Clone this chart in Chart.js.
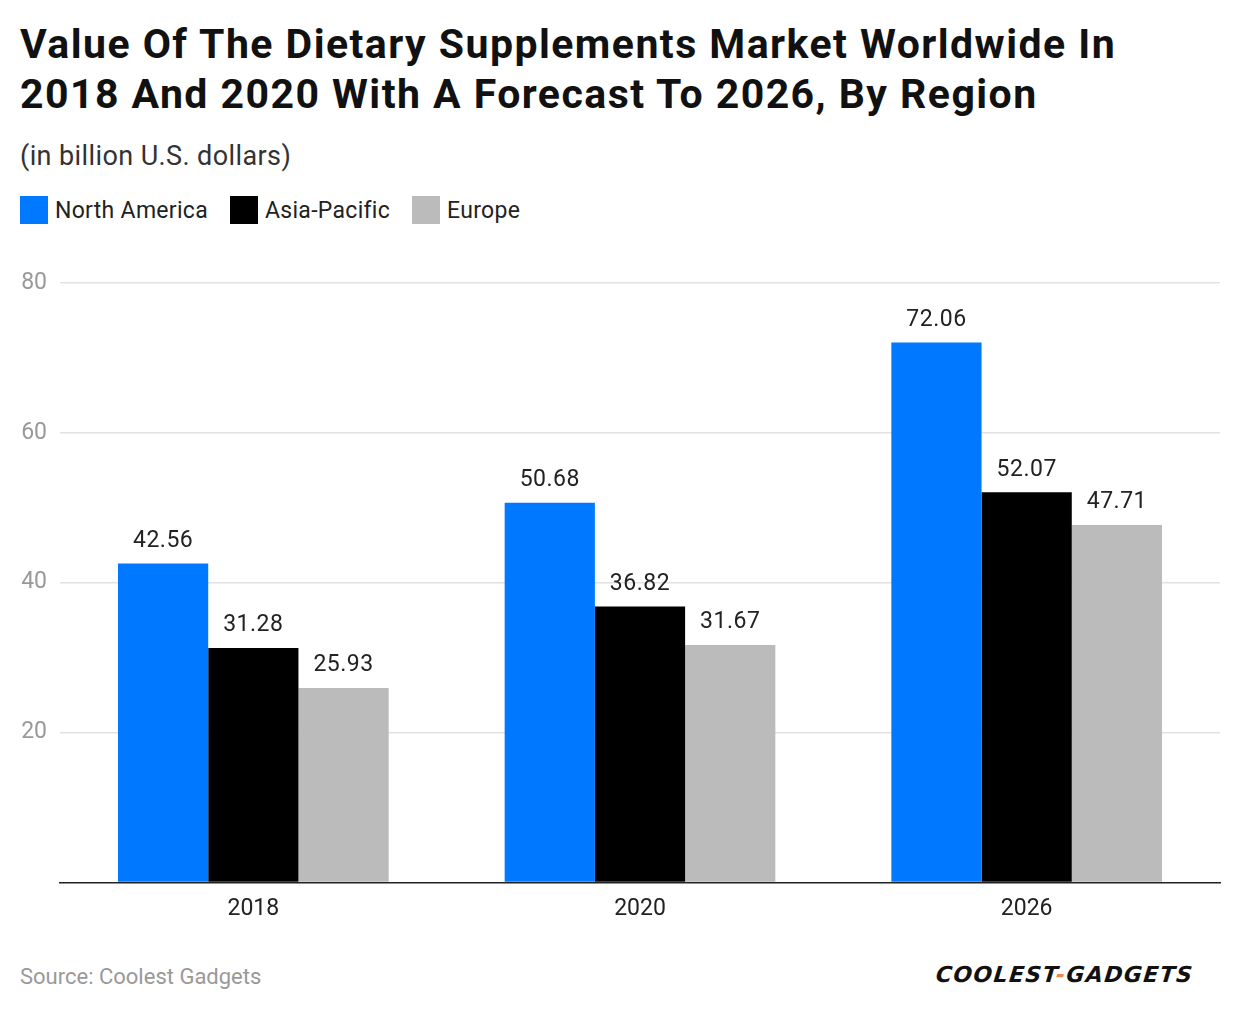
<!DOCTYPE html>
<html>
<head>
<meta charset="utf-8">
<script src="https://cdn.jsdelivr.net/npm/chart.js@4.4.1/dist/chart.umd.min.js"></script>
<style>
  body { margin: 0; background: #fff; font-family: Roboto, "Noto Sans", sans-serif; }
  .page { position: relative; width: 1240px; height: 1014px; overflow: hidden; }
  .title { position: absolute; left: 20px; top: 19px; font-size: 41px; font-weight: 700; line-height: 50px; color: #111; letter-spacing: 1.45px; white-space: nowrap; }
  .subtitle { position: absolute; left: 20px; top: 140px; font-size: 27px; color: #333; letter-spacing: 0.4px; }
  .legend { position: absolute; left: 20px; top: 196px; display: flex; align-items: center; font-size: 23px; color: #222; letter-spacing: 0.3px; }
  .legend span.box { width: 28px; height: 28px; display: inline-block; margin-right: 7px; }
  .legend .item { display: flex; align-items: center; margin-right: 22px; }
  .chart-wrap { position: absolute; left: 0; top: 250px; width: 1240px; height: 690px; }
  .source { position: absolute; left: 20px; top: 964px; font-size: 22px; color: #999; }
  .logo { position: absolute; left: 936px; top: 962px; font-size: 22px; font-weight: 900; font-style: italic; color: #111; letter-spacing: 1.4px; font-family: "DejaVu Sans", sans-serif; transform: skewX(-6deg); }
  .logo .dash { color: #f08a4b; }
</style>
</head>
<body>
<div class="page">
  <div class="title">Value Of The Dietary Supplements Market Worldwide In<br>2018 And 2020 With A Forecast To 2026, By Region</div>
  <div class="subtitle">(in billion U.S. dollars)</div>
  <div class="legend" id="legend"></div>
  <div class="chart-wrap"><canvas id="chart"></canvas></div>
  <div class="source">Source: Coolest Gadgets</div>
  <div class="logo">COOLEST<span class="dash">-</span>GADGETS</div>
</div>
<script>
const years = ['2018', '2020', '2026'];
const northAmerica = [42.56, 50.68, 72.06];
const asiaPacific = [31.28, 36.82, 52.07];
const europe = [25.93, 31.67, 47.71];
const yTicks = [20, 40, 60, 80];

const seriesNames = ['North America', 'Asia-Pacific', 'Europe'];
const seriesColors = ['#0078ff', '#000000', '#bbbbbb'];
const seriesData = [northAmerica, asiaPacific, europe];

document.getElementById('legend').innerHTML = seriesNames.map((n, i) =>
  `<div class="item"><span class="box" style="background:${seriesColors[i]}"></span>${n}</div>`
).join('');

const valueLabels = {
  id: 'valueLabels',
  afterDatasetsDraw(chart) {
    const ctx = chart.ctx;
    ctx.save();
    ctx.font = '23px Roboto, sans-serif';
    ctx.letterSpacing = '0.5px';
    ctx.fillStyle = '#222';
    ctx.textAlign = 'center';
    ctx.textBaseline = 'bottom';
    chart.data.datasets.forEach((ds, i) => {
      chart.getDatasetMeta(i).data.forEach((bar, j) => {
        ctx.fillText(ds.data[j].toFixed(2), bar.x, bar.y - 11);
      });
    });
    ctx.restore();
  }
};

new Chart(document.getElementById('chart'), {
  type: 'bar',
  data: {
    labels: years,
    datasets: seriesNames.map((n, i) => ({
      label: n,
      data: seriesData[i],
      backgroundColor: seriesColors[i],
      categoryPercentage: 0.7,
      barPercentage: 1.0
    }))
  },
  options: {
    responsive: true,
    maintainAspectRatio: false,
    animation: false,
    layout: { padding: { top: 33, right: 20, left: 0, bottom: 12 } },
    plugins: { legend: { display: false }, tooltip: { enabled: false } },
    scales: {
      x: {
        grid: { display: false },
        border: { color: '#222', width: 1.5 },
        ticks: { color: '#222', font: { size: 23, family: 'Roboto' }, padding: 5 }
      },
      y: {
        min: 0,
        max: 80,
        afterFit(scale) { scale.width = 60; },
        afterBuildTicks(scale) { scale.ticks = [0].concat(yTicks).map(v => ({ value: v })); },
        border: { display: false },
        grid: {
          drawTicks: false,
          color: c => c.tick.value === 0 ? 'rgba(0,0,0,0)' : '#e2e2e2',
          lineWidth: 1.5
        },
        ticks: {
          color: '#999',
          font: { size: 23, family: 'Roboto' },
          padding: 13,
          callback: v => v === 0 ? '' : v
        }
      }
    }
  },
  plugins: [valueLabels]
});
</script>
</body>
</html>
